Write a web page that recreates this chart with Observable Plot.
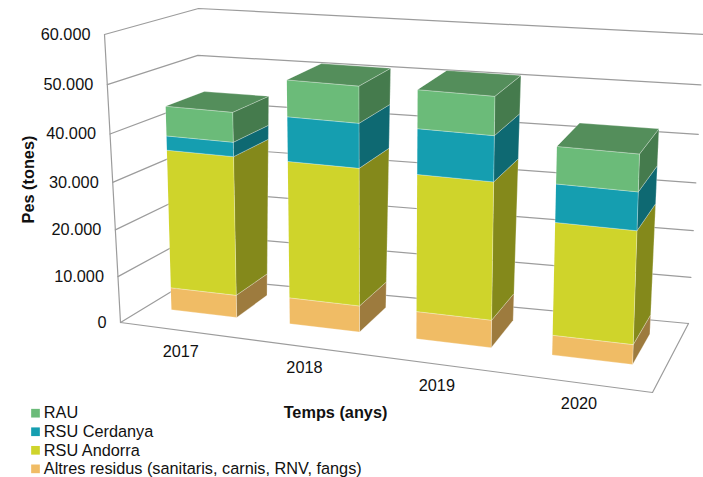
<!DOCTYPE html>
<html>
<head>
<meta charset="utf-8">
<script src="https://cdn.jsdelivr.net/npm/d3@7"></script>
<script src="https://cdn.jsdelivr.net/npm/@observablehq/plot@0.6"></script>
<style>
  html, body { margin: 0; padding: 0; background: #ffffff; }
  #chart { width: 703px; height: 477px; }
</style>
</head>
<body>
<div id="chart"></div>
<script>
// ---------------- DATA ----------------
const years = ["2017", "2018", "2019", "2020"];
// series, stacked bottom -> top
const seriesNames = ["Altres residus (sanitaris, carnis, RNV, fangs)", "RSU Andorra", "RSU Cerdanya", "RAU"];
const altres      = [4900, 5700, 5900, 4200];
const rsuAndorra  = [29800, 29100, 28800, 23500];
const rsuCerdanya = [3000, 9200, 9300, 7800];
const rau         = [6200, 7500, 7800, 7500];
const yTicks = [0, 10000, 20000, 30000, 40000, 50000, 60000];
const yMax = 60000;
const legendOrder = ["RAU", "RSU Cerdanya", "RSU Andorra", "Altres residus (sanitaris, carnis, RNV, fangs)"];
const xTitle = "Temps (anys)";
const yTitle = "Pes (tones)";

// ---------------- STYLE ----------------
const frontColors = ["#f0bc65", "#cfd42b", "#159eb0", "#6bbb79"];
const sideColors  = ["#9d7b3e", "#84891b", "#0e6972", "#457b4d"];
const topColors   = ["#c49a52", "#a8ad22", "#12848f", "#548e5b"];
const gridColor = "#9c9c9c";
const textColor = "#111111";
const font = "'Liberation Sans', Arial, Helvetica, sans-serif";
const fs = 16.3;

// ---------------- 3D VIEW (perspective approximation) ----------------
// screen positions of the plot box corners: c[X][Y][Z]
const view = {
  c000: [120, 322], c100: [652, 392], c001: [194, 277], c101: [688, 323],
  c010: [104, 34],  c110: [661, 87],  c011: [198, 8],   c111: [703, 34],
  gx: -0.13, gy: -0.052,
  barZ0: 0.35, barZ1: 0.80
};
const sx = u => u * (1 + view.gx) / (1 + view.gx * u);
const sy = t => t * (1 + view.gy) / (1 + view.gy * t);
const lerp = (a, b, f) => [a[0] + (b[0] - a[0]) * f, a[1] + (b[1] - a[1]) * f];
function proj(u, value, z) {
  const X = sx(u), Y = sy(value / yMax);
  const b0 = lerp(lerp(view.c000, view.c100, X), lerp(view.c001, view.c101, X), z);
  const b1 = lerp(lerp(view.c010, view.c110, X), lerp(view.c011, view.c111, X), z);
  const p = lerp(b0, b1, Y);
  return {x: p[0], y: p[1]};
}

const band = d3.scaleBand(years, [0, 1]).paddingInner(0.44).paddingOuter(0.22);
const seriesValues = [altres, rsuAndorra, rsuCerdanya, rau];

// ---------------- GEOMETRY FROM DATA ----------------
const faces = [];
let fid = 0;
function addFace(pts, fill) {
  const id = fid++;
  for (const p of pts) faces.push({id, fill, x: p.x, y: p.y});
}
years.forEach((yr, i) => {
  const u0 = band(yr), u1 = u0 + band.bandwidth();
  const z0 = view.barZ0, z1 = view.barZ1;
  let base = 0;
  const segs = seriesValues.map((vals, k) => {
    const s = {k, v0: base, v1: base + vals[i]};
    base += vals[i];
    return s;
  });
  for (const s of segs) {
    addFace([proj(u1, s.v0, z0), proj(u1, s.v0, z1), proj(u1, s.v1, z1), proj(u1, s.v1, z0)], sideColors[s.k]);
    addFace([proj(u0, s.v0, z0), proj(u1, s.v0, z0), proj(u1, s.v1, z0), proj(u0, s.v1, z0)], frontColors[s.k]);
  }
  const top = segs[segs.length - 1];
  addFace([proj(u0, top.v1, z0), proj(u1, top.v1, z0), proj(u1, top.v1, z1), proj(u0, top.v1, z1)], topColors[top.k]);
});

// gridlines on left and back walls
const grid = [];
yTicks.forEach(v => {
  [proj(0, v, 0), proj(0, v, 1), proj(1, v, 1)].forEach(p => grid.push({tick: v, ...p}));
});
// left axis line and floor front edges
const frameLines = [];
[proj(0, 0, 0), proj(0, yMax, 0)].forEach(p => frameLines.push({g: "axis", ...p}));
[proj(0, 0, 0), proj(1, 0, 0), proj(1, 0, 1)].forEach(p => frameLines.push({g: "floor", ...p}));

const fmt = d3.formatLocale({decimal: ",", thousands: ".", grouping: [3], currency: ["", " €"]}).format(",");
const tickLabels = yTicks.map(v => ({...proj(0, v, 0), label: fmt(v)}));
const catLabels = years.map(yr => ({...proj(band(yr) + band.bandwidth() / 2, 0, 0), label: yr}));

const legend = legendOrder.map((name, i) => ({
  name,
  color: frontColors[seriesNames.indexOf(name)],
  row: i
}));

// ---------------- PLOT ----------------
const chart = Plot.plot({
  width: 703,
  height: 477,
  margin: 0,
  x: {type: "linear", domain: [0, 703], range: [0, 703], axis: null},
  y: {type: "linear", domain: [0, 477], range: [0, 477], axis: null},
  color: {type: "identity"},
  style: {fontFamily: font, fontSize: fs + "px", background: "#ffffff", color: textColor},
  marks: [
    Plot.line(grid, {x: "x", y: "y", z: "tick", stroke: gridColor, strokeWidth: 1.2}),
    Plot.line(frameLines, {x: "x", y: "y", z: "g", stroke: gridColor, strokeWidth: 1.2}),
    Plot.line(faces, {x: "x", y: "y", z: "id", fill: "fill", stroke: "rgba(255,255,255,0.35)", strokeWidth: 0.8, curve: "linear-closed", strokeLinejoin: "round"}),
    Plot.text(tickLabels, {x: "x", y: "y", text: "label", textAnchor: "end", dx: -14, fontSize: fs, fill: textColor}),
    Plot.text(catLabels, {x: "x", y: "y", text: "label", dx: 1.5, dy: 21.5, fontSize: fs, fill: textColor}),
    Plot.text([xTitle], {x: () => 335, y: () => 412.7, text: d => d, fontSize: fs, fontWeight: "bold", fill: textColor}),
    Plot.text([yTitle], {x: () => 28.5, y: () => 179, text: d => d, rotate: -90, fontSize: fs, fontWeight: "bold", fill: textColor}),
    Plot.dot(legend, {x: () => 35, y: d => 412.7 + 18.55 * d.row, symbol: "square", r: 4.9, fill: "color", stroke: null}),
    Plot.text(legend, {x: () => 43.3, y: d => 412.7 + 18.55 * d.row, text: "name", textAnchor: "start", fontSize: fs, fill: textColor})
  ]
});
document.getElementById("chart").appendChild(chart);
</script>
</body>
</html>
